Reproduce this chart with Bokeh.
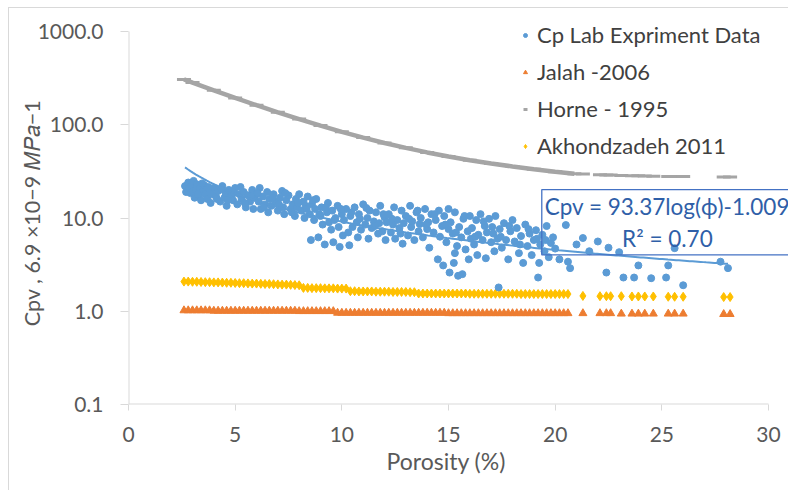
import math
from bokeh.plotting import figure
from bokeh.models import Label, Legend, LegendItem, FixedTicker, CustomJSTickFormatter, Title
from bokeh.embed import file_html
from bokeh.resources import INLINE
import numpy as np

# Lab measurements: porosity (%) and pore volume compressibility
lab_phi = [
    2.65, 2.7, 2.8, 2.85, 2.9, 2.95, 3.0, 3.05, 3.1, 3.15, 3.2, 3.3, 3.35, 3.4, 3.5, 3.55, 3.6, 3.7, 3.8, 3.85, 3.9, 4.0,
    4.1, 4.2, 4.3, 4.4, 4.5, 4.55, 4.6, 4.7, 4.8, 4.9, 5.0, 5.1, 5.2, 5.3, 5.4, 5.5, 5.6, 5.7, 5.8, 5.85, 5.9, 6.0,
    6.1, 6.15, 6.2, 6.3, 6.4, 6.5, 6.55, 6.6, 6.7, 6.8, 6.9, 7.0, 7.1, 7.2, 7.25, 7.3, 7.4, 7.5, 7.6, 7.7, 7.8, 7.85, 7.9, 8.0,
    8.1, 8.2, 8.25, 8.3, 8.4, 8.5, 8.55, 8.6, 8.7, 8.75, 8.8, 8.9, 9.0, 9.05, 9.1, 9.2, 9.3, 9.35, 9.4, 9.5, 9.55, 9.6, 9.7, 9.8, 9.85, 9.9, 10.0, 10.05,
    10.1, 10.2, 10.3, 10.35, 10.4, 10.5, 10.6, 10.7, 10.75, 10.8, 10.9, 11.0, 11.1, 11.2, 11.25, 11.3, 11.4, 11.5, 11.6, 11.7, 11.75, 11.8, 11.9, 12.0, 12.05, 12.1,
    12.2, 12.3, 12.4, 12.45, 12.5, 12.6, 12.7, 12.8, 12.85, 12.9, 13.0, 13.1, 13.2, 13.25, 13.3, 13.4, 13.5, 13.6, 13.65, 13.7, 13.8, 13.9, 14.0, 14.05, 14.1, 14.2,
    14.3, 14.4, 14.5, 14.55, 14.6, 14.7, 14.75, 14.8, 14.9, 15.0, 15.05, 15.1, 15.2, 15.25, 15.3, 15.4, 15.45, 15.5, 15.6, 15.65, 15.7, 15.8, 15.9, 15.95, 16.0, 16.05, 15.0, 15.3,
    16.1, 16.2, 16.3, 16.35, 16.4, 16.5, 16.6, 16.7, 16.75, 16.8, 16.9, 17.0, 17.1, 17.15, 17.2, 17.3, 17.35, 17.4, 17.5, 17.6, 17.7, 17.8, 17.9, 18.0,
    18.1, 18.2, 18.3, 18.4, 18.5, 18.6, 18.7, 18.8, 18.9, 19.0, 19.1, 19.2, 19.25, 19.3, 19.4, 19.5, 19.6, 19.7, 19.8, 19.9, 20.0, 20.2,
    20.5, 20.6, 20.7, 21.0, 21.3, 21.6, 22.0, 22.4, 22.5, 23.0, 23.2, 23.7, 23.9, 24.5, 25.2, 25.3, 25.6, 26.0, 27.75, 28.1,
    3.25, 3.45, 3.75, 4.15, 4.35, 4.65, 4.95, 5.25, 5.45, 5.75, 6.05, 6.35, 6.75, 7.05, 7.35, 7.65, 7.95, 8.35, 8.65, 8.95,
    9.25, 9.65, 9.95, 10.45, 10.85, 11.15, 11.55, 11.95, 12.35, 12.75, 13.15, 13.55, 13.95, 14.35, 14.85, 15.35, 15.75, 16.25, 16.65, 17.05,
    17.45, 17.85, 18.35, 18.75, 19.15, 19.55,
]
lab_cpv = [
    22, 19, 24, 21, 18.5, 22, 19, 25, 16.5, 20, 23, 17.5, 21, 15.5, 19.5, 22.5, 18, 16, 20.5, 14.5, 18, 21,
    17, 19.5, 15, 22, 16.5, 18.5, 13.5, 20, 17, 15.5, 21, 14, 18, 16, 19, 13, 17.5, 15, 20, 12.5, 16.5, 18,
    15, 21, 12.5, 17, 14, 19, 11.5, 16, 13.5, 18, 15, 12, 16.5, 19.5, 13, 11, 15.5, 17.5, 12.5, 14, 10.5, 16, 13, 18,
    12, 15, 10, 13.5, 17, 11, 5.8, 14, 9.5, 12.5, 16, 6.2, 10.5, 13, 8.5, 5.2, 11.5, 14.5, 9, 7.5, 12, 5.5, 10, 13.5, 8, 4.9, 11, 6.5,
    9.5, 12.5, 7, 5.1, 10.5, 8, 13, 9, 6.2, 11, 7.5, 14, 8.5, 10, 6, 12, 7.8, 9.2, 11.5, 6.8, 8.8, 13.5, 7.2, 10.2, 5.8, 9,
    11, 7, 8.5, 13, 6, 9.5, 7.8, 12, 5.3, 8.8, 10.5, 6.5, 13.5, 8, 9.2, 5.8, 11.5, 7.2, 8.6, 10, 6.2, 12.5, 7.6, 9, 4.8, 11,
    7, 9.5, 3.6, 12, 6.3, 8.2, 3.1, 10.5, 5.5, 7.6, 2.6, 9, 6.8, 3.3, 11.5, 5, 2.4, 8, 6.2, 2.5, 9.8, 4.6, 7.2, 3.6, 10.5, 6, 12.5, 4.2,
    7.8, 5.2, 9.5, 4, 6.6, 11, 5.8, 8.2, 3.7, 7, 9.8, 5.5, 6.8, 4.4, 10.5, 6, 1.8, 7.6, 4.8, 8.8, 5.8, 3.6, 7.2, 9.5,
    5.6, 7.8, 4.2, 6.4, 3.3, 8.5, 5, 6.8, 4, 5.8, 7.4, 2.3, 3.3, 5.2, 6.6, 4.4, 8.2, 3.8, 5.4, 6.2, 4.7, 3.6,
    8.4, 3.4, 2.9, 5.2, 6.1, 4.4, 5.6, 2.6, 4.8, 4.3, 2.3, 2.3, 3.1, 2.26, 2.3, 3.1, 4.75, 1.9, 3.4, 2.9,
    18, 23.5, 21.5, 16, 20.5, 15.5, 18.5, 21.5, 14.5, 17, 18.5, 13, 16.5, 14, 18.5, 11.5, 14.5, 12.5, 15.5, 11,
    13, 9.5, 12.5, 11.5, 9.8, 12.8, 8.2, 11, 9.8, 6.8, 9.8, 12, 8.5, 11, 8.5, 7, 10.5, 6.3, 9.2, 8,
    6.3, 8.2, 5.2, 7.6, 6, 5.8,
]

# Porosities at which the published correlations are evaluated
model_phi = [
    2.6, 2.8, 3.0, 3.2, 3.4, 3.6, 3.8, 4.0, 4.2, 4.4, 4.6, 4.8, 5.0, 5.2, 5.4, 5.6, 5.8, 6.0, 6.2, 6.4,
    6.6, 6.8, 7.0, 7.2, 7.4, 7.6, 7.8, 8.0, 8.2, 8.4, 8.6, 8.8, 9.0, 9.2, 9.4, 9.6, 9.8, 10.0, 10.2, 10.4,
    10.6, 10.8, 11.0, 11.2, 11.4, 11.6, 11.8, 12.0, 12.2, 12.4, 12.6, 12.8, 13.0, 13.2, 13.4, 13.6, 13.8, 14.0, 14.2, 14.4,
    14.6, 14.8, 15.0, 15.2, 15.4, 15.6, 15.8, 16.0, 16.2, 16.4, 16.6, 16.8, 17.0, 17.2, 17.4, 17.6, 17.8, 18.0, 18.2, 18.4,
    18.6, 18.8, 19.0, 19.2, 19.4, 19.6, 19.8, 20.0, 20.2, 20.4, 20.6,
    21.3, 22.1, 22.4, 22.6, 23.1, 23.6, 23.9, 24.2, 24.6, 25.3, 25.6, 26.0, 27.9, 28.2,
]
jalah_cpv = [
    1.02, 1.02, 1.02, 1.02, 1.02, 1.02, 1.02, 1.01, 1.01, 1.01, 1.01, 1.01, 1.01, 1.01, 1.01, 1.01, 1.01, 1.01, 1.01, 1.01,
    1.01, 1.01, 1.01, 1.01, 1.01, 1.01, 1.01, 1.00, 1.00, 1.00, 1.00, 1.00, 1.00, 1.00, 1.00, 1.00, 0.96, 0.96, 0.96, 0.96,
    0.96, 0.96, 0.96, 0.96, 0.96, 0.96, 0.96, 0.96, 0.96, 0.96, 0.96, 0.96, 0.96, 0.96, 0.96, 0.96, 0.96, 0.96, 0.96, 0.96,
    0.96, 0.96, 0.95, 0.95, 0.95, 0.95, 0.95, 0.95, 0.95, 0.95, 0.95, 0.95, 0.95, 0.95, 0.95, 0.95, 0.95, 0.95, 0.95, 0.95,
    0.95, 0.95, 0.95, 0.95, 0.95, 0.95, 0.95, 0.95, 0.95, 0.95, 0.95,
    0.95, 0.95, 0.95, 0.95, 0.94, 0.94, 0.94, 0.94, 0.94, 0.94, 0.94, 0.94, 0.93, 0.93,
]
akhond_cpv = [
    2.08, 2.08, 2.07, 2.07, 2.06, 2.05, 2.05, 2.04, 2.04, 2.03, 2.02, 2.02, 2.01, 2.00, 2.00, 1.99, 1.98, 1.98, 1.97, 1.96,
    1.96, 1.95, 1.94, 1.93, 1.93, 1.92, 1.91, 1.90, 1.78, 1.78, 1.77, 1.77, 1.77, 1.76, 1.76, 1.76, 1.75, 1.75, 1.75, 1.64,
    1.64, 1.63, 1.63, 1.63, 1.63, 1.62, 1.62, 1.62, 1.62, 1.61, 1.61, 1.61, 1.61, 1.60, 1.60, 1.55, 1.55, 1.55, 1.55, 1.55,
    1.55, 1.55, 1.55, 1.55, 1.55, 1.55, 1.55, 1.54, 1.54, 1.54, 1.54, 1.54, 1.54, 1.54, 1.54, 1.54, 1.54, 1.54, 1.54, 1.53,
    1.53, 1.53, 1.53, 1.53, 1.53, 1.53, 1.53, 1.53, 1.53, 1.53, 1.53,
    1.46, 1.45, 1.45, 1.45, 1.45, 1.44, 1.44, 1.44, 1.44, 1.43, 1.43, 1.43, 1.42, 1.42,
]
horne_phi = [2.6, 3, 4, 5, 6, 7, 8, 9, 10, 11, 12, 13, 14, 15, 16, 17, 18, 19, 20, 20.9,
             21.3, 22.1, 22.4, 22.6, 23.1, 23.6, 23.9, 24.2, 24.6, 25.3, 25.6, 26.0, 27.9, 28.2]
horne_cpv = [306, 283, 234, 194, 162, 136, 115, 98, 84, 72.8, 63.7, 56.5, 50.5, 45.7, 41.7, 38.4, 35.7, 33.4, 31.4, 29.9,
             29.6, 29.1, 29.0, 28.9, 28.6, 28.4, 28.3, 28.2, 28.1, 27.9, 27.8, 27.8, 27.6, 27.6]

# Power-law fit of the lab data: Cpv = a * phi ** b
fit_a = 93.37
fit_b = -1.009
fit_label = "Cpv = 93.37log(\u03d5)-1.009\nR\u00b2 = 0.70"

x_ticks = [0, 5, 10, 15, 20, 25, 30]
y_ticks = [0.1, 1, 10, 100, 1000]

BLUE = "#5B9BD5"
ORANGE = "#ED7D31"
GRAY = "#A5A5A5"
GOLD = "#FFC000"
AXIS = "#D9D9D9"
TXT = "#595959"
FONT = "Lato"

# The frame runs a little past the last ticks (right and top) so that the
# equation box and the legend are not clipped; the axis lines are drawn
# only across the tick span.
px_per_unit = 640 / (x_ticks[-1] - x_ticks[0])
x_end = x_ticks[-1] + 21 / px_per_unit
px_per_decade = 373 / (math.log10(y_ticks[-1]) - math.log10(y_ticks[0]))
y_end = y_ticks[-1] * 10 ** (10 / px_per_decade)

p = figure(width=780, height=483, x_range=(x_ticks[0], x_end), y_range=(y_ticks[0], y_end),
           y_axis_type="log", output_backend="svg", toolbar_location=None,
           min_border_left=119, min_border_right=0, min_border_top=13, min_border_bottom=87)
p.margin = (7, 0, 0, 8)
p.styles = {"border-top": "1px solid #D9D9D9", "border-left": "1px solid #D9D9D9"}
p.outline_line_color = None
p.grid.visible = False

p.segment(x0=[x_ticks[0]], y0=[y_ticks[0]], x1=[x_ticks[-1]], y1=[y_ticks[0]], line_color=AXIS, line_width=2)
p.segment(x0=[x_ticks[0]], y0=[y_ticks[0]], x1=[x_ticks[0]], y1=[y_ticks[-1]], line_color=AXIS, line_width=2)

# Horne 1995: dense part as a continuous band, sparse part as dashes
n_dense = sum(1 for v in horne_phi if v <= 21)
p.line(horne_phi[:n_dense], horne_cpv[:n_dense], line_color=GRAY, line_width=4.5)
r_horne = p.scatter(horne_phi, horne_cpv, marker="dash", size=14, line_color=GRAY, line_width=3)

r_akh = p.scatter(model_phi, akhond_cpv, marker="diamond", size=9, fill_color=GOLD, line_color=GOLD)
r_jal = p.scatter(model_phi, jalah_cpv, marker="triangle", size=8, fill_color=ORANGE, line_color=ORANGE)
r_lab = p.scatter(lab_phi, lab_cpv, marker="circle", size=7, fill_color=BLUE, line_color=BLUE)

fit_x = np.linspace(min(lab_phi), max(lab_phi), 200)
fit_y = fit_a * fit_x ** fit_b
p.line(fit_x, fit_y, line_color=BLUE, line_width=2)

# Axes
p.xaxis.ticker = FixedTicker(ticks=x_ticks)
p.yaxis.ticker = FixedTicker(ticks=y_ticks)
p.yaxis.formatter = CustomJSTickFormatter(code="return tick.toFixed(1);")
for ax in (p.xaxis[0], p.yaxis[0]):
    ax.axis_line_color = None
    ax.major_tick_line_color = AXIS
    ax.minor_tick_line_color = None
    ax.major_tick_in = 0
    ax.major_label_text_font = FONT
    ax.major_label_text_font_size = "21px"
    ax.major_label_text_color = TXT
p.xaxis.major_tick_out = 6
p.yaxis.major_tick_out = 8
p.yaxis.major_label_standoff = 17
p.xaxis.major_label_standoff = 16

p.yaxis.axis_label = "Cpv , 6.9 \u00d710\u22129 \U0001D440\U0001D443\U0001D44E\u22121"
p.yaxis.axis_label_text_font = FONT
p.yaxis.axis_label_text_font_size = "21.5px"
p.yaxis.axis_label_text_font_style = "normal"
p.yaxis.axis_label_text_color = TXT
p.yaxis.axis_label_standoff = -10

# x title centred under the 0-30 tick span
p.add_layout(Title(text="Porosity (%)", align="left", offset=258, text_font=FONT,
                   text_font_size="23px", text_font_style="normal", text_color=TXT, standoff=0), "below")

# Fit equation box
p.add_layout(Label(x=25.26, y=9.0, text=fit_label, text_align="center", text_baseline="middle",
                   text_font=FONT, text_font_size="22.5px", text_color="#2F5FA8", text_line_height=1.2,
                   border_line_color="#4472C4", border_line_width=1.3, padding=3))

legend = Legend(items=[
    LegendItem(label="Cp Lab Expriment Data", renderers=[r_lab]),
    LegendItem(label="Jalah -2006", renderers=[r_jal]),
    LegendItem(label="Horne - 1995", renderers=[r_horne]),
    LegendItem(label="Akhondzadeh 2011", renderers=[r_akh]),
], location=(392, 245))
legend.label_text_font = FONT
legend.label_text_font_size = "22px"
legend.label_text_color = "#404040"
legend.glyph_width = 10
legend.glyph_height = 26
legend.label_height = 26
legend.spacing = 10
legend.label_standoff = 7
legend.padding = 0
legend.margin = 0
legend.border_line_color = None
legend.background_fill_alpha = 0
p.add_layout(legend)

open("out.html", "w").write(file_html(p, INLINE))
